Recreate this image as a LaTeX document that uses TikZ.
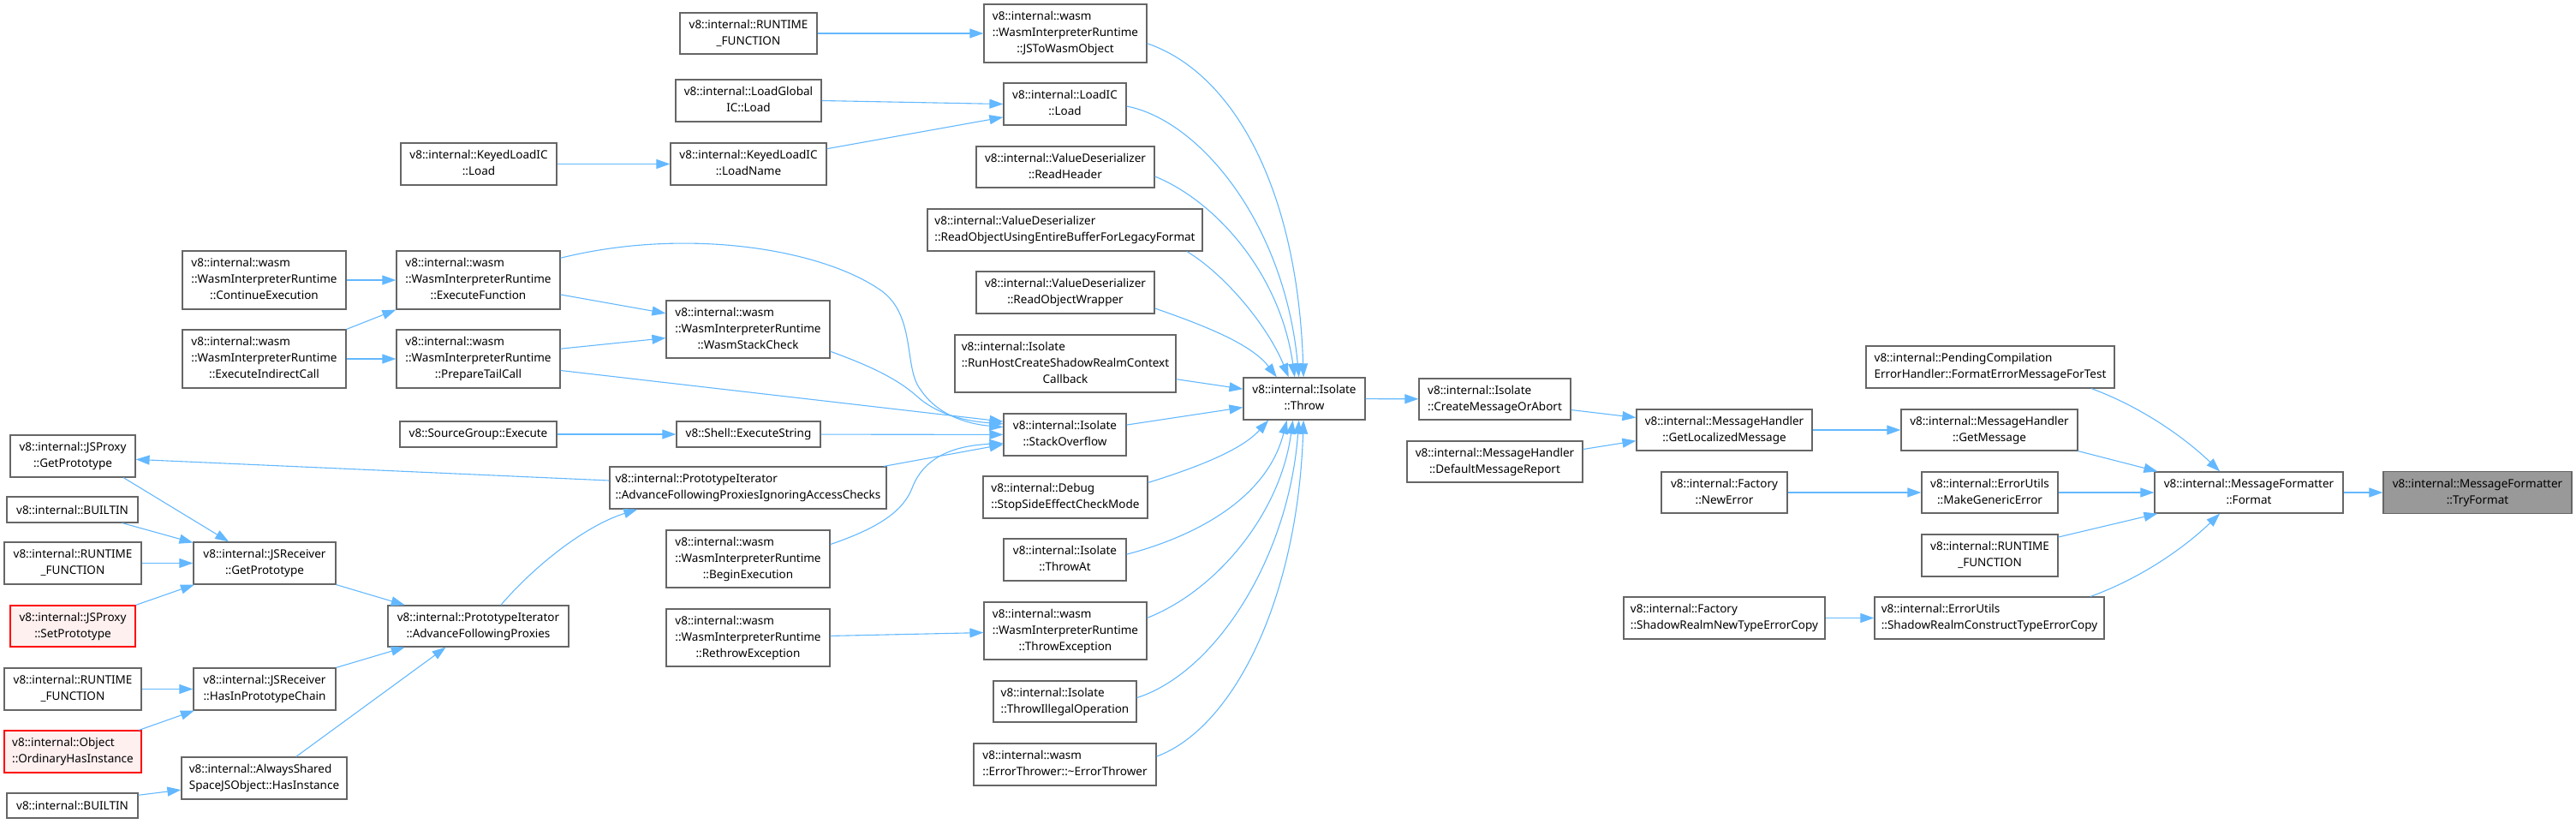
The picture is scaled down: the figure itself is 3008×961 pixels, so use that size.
\documentclass[tikz,border=0pt]{standalone}
\usepackage{fontspec}
\setmainfont{Noto Sans}
\usetikzlibrary{arrows.meta}
\definecolor{dxEdge}{HTML}{63B8FF}
\definecolor{dxLine}{HTML}{666666}
\definecolor{dxRoot}{HTML}{999999}
\definecolor{dxTrunc}{HTML}{FF0000}
\definecolor{dxTruncBg}{HTML}{FFF0F0}
% doxygen style labels: upper lines flush left, last line centred
\newcommand{\lbltwo}[2]{\begin{tabular}{@{}l@{}}#1\\\multicolumn{1}{@{}c@{}}{#2}\end{tabular}}
\newcommand{\lblthree}[3]{\begin{tabular}{@{}l@{}}#1\\#2\\\multicolumn{1}{@{}c@{}}{#3}\end{tabular}}

\begin{document}
\begin{tikzpicture}[
  x=1pt, y=-1pt,
  fn/.style={draw=dxLine, line width=1.2pt, fill=white, inner sep=0pt, font=\fontsize{13.5}{19}\selectfont},
  sz/.style 2 args={minimum width=#1pt, minimum height=#2pt},
  root/.style={fn, fill=dxRoot},
  trunc/.style={fn, draw=dxTrunc, fill=dxTruncBg},
  arr/.style={-{Triangle[length=16pt,width=11pt]}, draw=dxEdge, line width=1.1pt}
]
\useasboundingbox (0,0) rectangle (3008,961);

% far left column
\node[fn, sz={146}{49}] (jsProxyGet) at (85,532.5) {\lbltwo{v8::internal::JSProxy}{::GetPrototype}};
\node[fn, sz={153}{30}] (builtinTop) at (84.5,595) {v8::internal::BUILTIN};
\node[fn, sz={160}{49}] (rtLeftA) at (85,657.5) {\lbltwo{v8::internal::RUNTIME}{\_FUNCTION}};
\node[trunc, sz={146}{48}] (jsProxySet) at (85,731) {\lbltwo{v8::internal::JSProxy}{::SetPrototype}};
\node[fn, sz={160}{49}] (rtLeftB) at (85,804.5) {\lbltwo{v8::internal::RUNTIME}{\_FUNCTION}};
\node[trunc, sz={160}{49}] (ordHasInst) at (85,877.5) {\lbltwo{v8::internal::Object}{::OrdinaryHasInstance}};
\node[fn, sz={153}{29}] (builtinBot) at (84.5,940.5) {v8::internal::BUILTIN};

% second column
\node[fn, sz={191}{68}] (contExec) at (308.5,327) {\lblthree{v8::internal::wasm}{::WasmInterpreterRuntime}{::ContinueExecution}};
\node[fn, sz={191}{68}] (execIndirect) at (308.5,419) {\lblthree{v8::internal::wasm}{::WasmInterpreterRuntime}{::ExecuteIndirectCall}};
\node[fn, sz={166}{49}] (recvGetProto) at (309,657.5) {\lbltwo{v8::internal::JSReceiver}{::GetPrototype}};
\node[fn, sz={166}{49}] (recvHasIn) at (309,804.5) {\lbltwo{v8::internal::JSReceiver}{::HasInPrototypeChain}};
\node[fn, sz={193}{49}] (alwaysShared) at (308.5,908.5) {\lbltwo{v8::internal::AlwaysShared}{SpaceJSObject::HasInstance}};

% third column
\node[fn, sz={182}{49}] (keyedLoad) at (559,191.5) {\lbltwo{v8::internal::KeyedLoadIC}{::Load}};
\node[fn, sz={191}{68}] (execFunc) at (558.5,327) {\lblthree{v8::internal::wasm}{::WasmInterpreterRuntime}{::ExecuteFunction}};
\node[fn, sz={191}{68}] (prepTail) at (558.5,419) {\lblthree{v8::internal::wasm}{::WasmInterpreterRuntime}{::PrepareTailCall}};
\node[fn, sz={183}{30}] (srcGroup) at (558.5,507) {v8::SourceGroup::Execute};
\node[fn, sz={211}{48}] (protoAdv) at (558.5,731) {\lbltwo{v8::internal::PrototypeIterator}{::AdvanceFollowingProxies}};

% fourth column
\node[fn, sz={160}{48}] (rtTop) at (874,39) {\lbltwo{v8::internal::RUNTIME}{\_FUNCTION}};
\node[fn, sz={170}{49}] (loadGlobal) at (874,117.5) {\lbltwo{v8::internal::LoadGlobal}{IC::Load}};
\node[fn, sz={182}{49}] (keyedLoadName) at (874,191.5) {\lbltwo{v8::internal::KeyedLoadIC}{::LoadName}};
\node[fn, sz={191}{67}] (wasmStack) at (873.5,384.5) {\lblthree{v8::internal::wasm}{::WasmInterpreterRuntime}{::WasmStackCheck}};
\node[fn, sz={168}{30}] (shellExec) at (874,507) {v8::Shell::ExecuteString};
\node[fn, sz={323}{49}] (protoIgnore) at (873.5,569.5) {\lbltwo{v8::internal::PrototypeIterator}{::AdvanceFollowingProxiesIgnoringAccessChecks}};
\node[fn, sz={191}{67}] (beginExec) at (873.5,652.5) {\lblthree{v8::internal::wasm}{::WasmInterpreterRuntime}{::BeginExecution}};
\node[fn, sz={191}{67}] (rethrow) at (873.5,744.5) {\lblthree{v8::internal::wasm}{::WasmInterpreterRuntime}{::RethrowException}};

% callers of Isolate::Throw
\node[fn, sz={190}{68}] (jsToWasm) at (1244,39) {\lblthree{v8::internal::wasm}{::WasmInterpreterRuntime}{::JSToWasmObject}};
\node[fn, sz={143}{49}] (loadIC) at (1243.5,121.5) {\lbltwo{v8::internal::LoadIC}{::Load}};
\node[fn, sz={208}{48}] (readHeader) at (1244,195) {\lbltwo{v8::internal::ValueDeserializer}{::ReadHeader}};
\node[fn, sz={321}{49}] (readLegacy) at (1243.5,268.5) {\lbltwo{v8::internal::ValueDeserializer}{::ReadObjectUsingEntireBufferForLegacyFormat}};
\node[fn, sz={208}{49}] (readWrapper) at (1244,341.5) {\lbltwo{v8::internal::ValueDeserializer}{::ReadObjectWrapper}};
\node[fn, sz={258}{67}] (runHost) at (1244,424.5) {\lblthree{v8::internal::Isolate}{::RunHostCreateShadowRealmContext}{Callback}};
\node[fn, sz={143}{49}] (stackOverflow) at (1243.5,507.5) {\lbltwo{v8::internal::Isolate}{::StackOverflow}};
\node[fn, sz={192}{49}] (stopSide) at (1244,580.5) {\lbltwo{v8::internal::Debug}{::StopSideEffectCheckMode}};
\node[fn, sz={143}{49}] (throwAt) at (1243.5,653.5) {\lbltwo{v8::internal::Isolate}{::ThrowAt}};
\node[fn, sz={190}{67}] (throwExc) at (1244,736.5) {\lblthree{v8::internal::wasm}{::WasmInterpreterRuntime}{::ThrowException}};
\node[fn, sz={167}{48}] (throwIllegal) at (1243.5,819) {\lbltwo{v8::internal::Isolate}{::ThrowIllegalOperation}};
\node[fn, sz={213}{49}] (errThrower) at (1243.5,892.5) {\lbltwo{v8::internal::wasm}{::ErrorThrower::\textasciitilde ErrorThrower}};

% right half
\node[fn, sz={142}{49}] (throw) at (1523,465.5) {\lbltwo{v8::internal::Isolate}{::Throw}};
\node[fn, sz={177}{48}] (createMsg) at (1745.5,466) {\lbltwo{v8::internal::Isolate}{::CreateMessageOrAbort}};
\node[fn, sz={205}{48}] (defaultMsg) at (1745.5,539) {\lbltwo{v8::internal::MessageHandler}{::DefaultMessageReport}};
\node[fn, sz={205}{48}] (getLocalized) at (2013.5,502) {\lbltwo{v8::internal::MessageHandler}{::GetLocalizedMessage}};
\node[fn, sz={147}{48}] (newError) at (2013.5,575) {\lbltwo{v8::internal::Factory}{::NewError}};
\node[fn, sz={235}{49}] (newTypeErr) at (2013.5,721.5) {\lbltwo{v8::internal::Factory}{::ShadowRealmNewTypeErrorCopy}};
\node[fn, sz={290}{49}] (pendingComp) at (2324,428.5) {\lbltwo{v8::internal::PendingCompilation}{ErrorHandler::FormatErrorMessageForTest}};
\node[fn, sz={206}{48}] (getMessage) at (2323,502) {\lbltwo{v8::internal::MessageHandler}{::GetMessage}};
\node[fn, sz={159}{48}] (makeGeneric) at (2323.5,575) {\lbltwo{v8::internal::ErrorUtils}{::MakeGenericError}};
\node[fn, sz={159}{49}] (rtRight) at (2323.5,648.5) {\lbltwo{v8::internal::RUNTIME}{\_FUNCTION}};
\node[fn, sz={268}{49}] (constructTypeErr) at (2323,721.5) {\lbltwo{v8::internal::ErrorUtils}{::ShadowRealmConstructTypeErrorCopy}};
\node[fn, sz={220}{48}] (format) at (2626,575) {\lbltwo{v8::internal::MessageFormatter}{::Format}};
\node[root, sz={220}{49}] (tryFormat) at (2893,575) {\lbltwo{v8::internal::MessageFormatter}{::TryFormat}};

% straight calls
\foreach \a/\b in {rtTop/jsToWasm, loadGlobal.east/loadIC.west, keyedLoad/keyedLoadName,
    keyedLoadName.11/loadIC.192, contExec/execFunc, execIndirect.north east/execFunc.south west,
    execIndirect/prepTail, execFunc.350/wasmStack.169, prepTail.7/wasmStack.186,
    prepTail.352/stackOverflow.168, srcGroup/shellExec, shellExec/stackOverflow,
    protoIgnore.9/stackOverflow.189, protoIgnore.177/jsProxyGet.357, jsProxyGet.337/recvGetProto.149,
    builtinTop.345/recvGetProto.164, rtLeftA/recvGetProto, jsProxySet.north east/recvGetProto.197,
    recvGetProto.south east/protoAdv.164, rtLeftB/recvHasIn, ordHasInst.18/recvHasIn.197,
    recvHasIn.north east/protoAdv.196, alwaysShared.34/protoAdv.213, builtinBot.9/alwaysShared.188,
    rethrow/throwExc, stackOverflow.9/throw.188, runHost.352/throw.171, throw/createMsg,
    createMsg.352/getLocalized.172, defaultMsg.8/getLocalized.187, getLocalized/getMessage,
    getMessage.south east/format.167, newError/makeGeneric, makeGeneric/format, rtRight.15/format.193,
    newTypeErr/constructTypeErr, format/tryFormat}
  \draw[arr] (\a) -- (\b);

% curved calls into StackOverflow
\draw[arr] (execFunc.15) .. controls (800,265) and (960,290) .. (1030,340)
  .. controls (1070,370) and (1055,430) .. (1075,455)
  .. controls (1095,485) and (1130,495) .. (stackOverflow.173);
\draw[arr] (wasmStack.345) .. controls (1010,425) and (1045,440) .. (1070,462)
  .. controls (1095,485) and (1130,492) .. (stackOverflow.170);
\draw[arr] (beginExec.10) .. controls (1030,615) and (1055,595) .. (1065,570)
  .. controls (1080,530) and (1120,520) .. (stackOverflow.188);
\draw[arr] (protoAdv.43) .. controls (620,665) and (680,615) .. (protoIgnore.191);

% curved calls into Throw
\draw[arr] (jsToWasm.353) .. controls (1440,85) and (1515,220) .. (throw.92);
\draw[arr] (loadIC.358) .. controls (1400,140) and (1500,260) .. (throw.104);
\draw[arr] (readHeader.354) .. controls (1420,235) and (1495,320) .. (throw.114);
\draw[arr] (readLegacy.350) .. controls (1430,320) and (1480,380) .. (throw.126);
\draw[arr] (readWrapper.350) .. controls (1400,378) and (1460,400) .. (throw.142);
\draw[arr] (stopSide.10) .. controls (1400,545) and (1450,525) .. (throw.211);
\draw[arr] (throwAt.5) .. controls (1400,625) and (1480,580) .. (throw.231);
\draw[arr] (throwExc.9) .. controls (1420,690) and (1495,600) .. (throw.242);
\draw[arr] (throwIllegal.3) .. controls (1420,785) and (1505,650) .. (throw.256);
\draw[arr] (errThrower.5) .. controls (1440,850) and (1515,700) .. (throw.268);

% curved calls into Format
\draw[arr] (pendingComp.348) .. controls (2500,475) and (2550,510) .. (format.144);
\draw[arr] (constructTypeErr.12) .. controls (2500,675) and (2550,640) .. (format.216);
\end{tikzpicture}
\end{document}
